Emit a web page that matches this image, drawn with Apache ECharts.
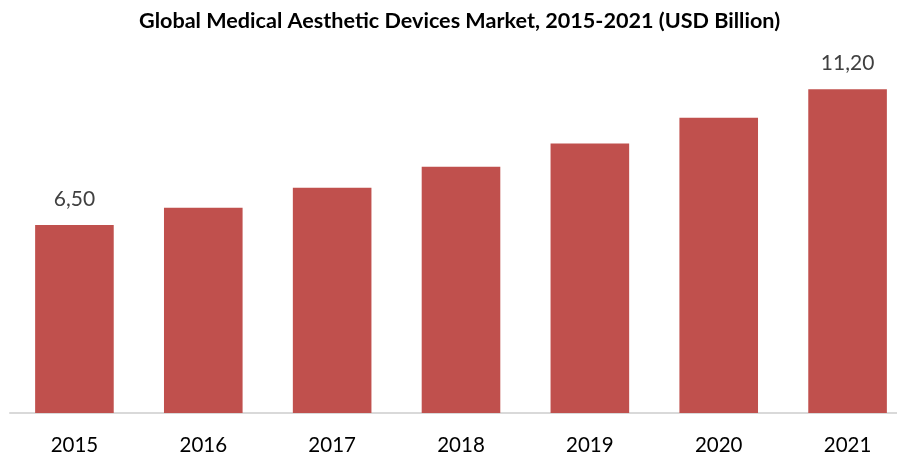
<!DOCTYPE html>
<html>
<head>
<meta charset="utf-8">
<script src="https://cdn.jsdelivr.net/npm/echarts@6/dist/echarts.min.js"></script>
<style>
  html, body { margin: 0; padding: 0; background: #ffffff; }
  #chart { width: 897px; height: 456px; }
</style>
</head>
<body>
<div id="chart"></div>
<script>
// Market size by year, USD billion
const years = ['2015', '2016', '2017', '2018', '2019', '2020', '2021'];
const marketSize = [6.50, 7.10, 7.79, 8.52, 9.32, 10.21, 11.20];
// Only the first and last bars carry a value label
const labelledYears = ['2015', '2021'];

const fmt = v => v.toFixed(2).replace('.', ',');

const chart = echarts.init(document.getElementById('chart'));
chart.setOption({
  animation: false,
  backgroundColor: '#ffffff',
  title: {
    text: 'Global Medical Aesthetic Devices Market, 2015-2021 (USD Billion)',
    left: 134,
    top: 5,
    textStyle: { fontFamily: 'Lato', fontWeight: 'bold', fontSize: 21.6, color: '#000000' }
  },
  // the last category runs slightly past the right edge of the canvas
  grid: { left: 10, width: 902, top: 66, bottom: 43, outerBoundsMode: 'none' },
  xAxis: {
    type: 'category',
    data: years,
    axisLine: { lineStyle: { color: '#d9d9d9', width: 2 } },
    axisTick: { show: false },
    axisLabel: { fontFamily: 'Lato', fontSize: 20.5, color: '#000000', margin: 22 }
  },
  yAxis: {
    type: 'value',
    min: 0,
    max: 12,
    show: false,
    splitLine: { show: false }
  },
  series: [{
    type: 'bar',
    barWidth: '61%',
    itemStyle: { color: '#c0504d' },
    data: marketSize.map((v, i) => ({
      value: v,
      label: {
        show: labelledYears.includes(years[i]),
        position: 'top',
        distance: 15,
        formatter: p => fmt(p.value),
        fontFamily: 'Lato',
        fontSize: 21,
        color: '#404040'
      }
    }))
  }]
});
</script>
</body>
</html>
